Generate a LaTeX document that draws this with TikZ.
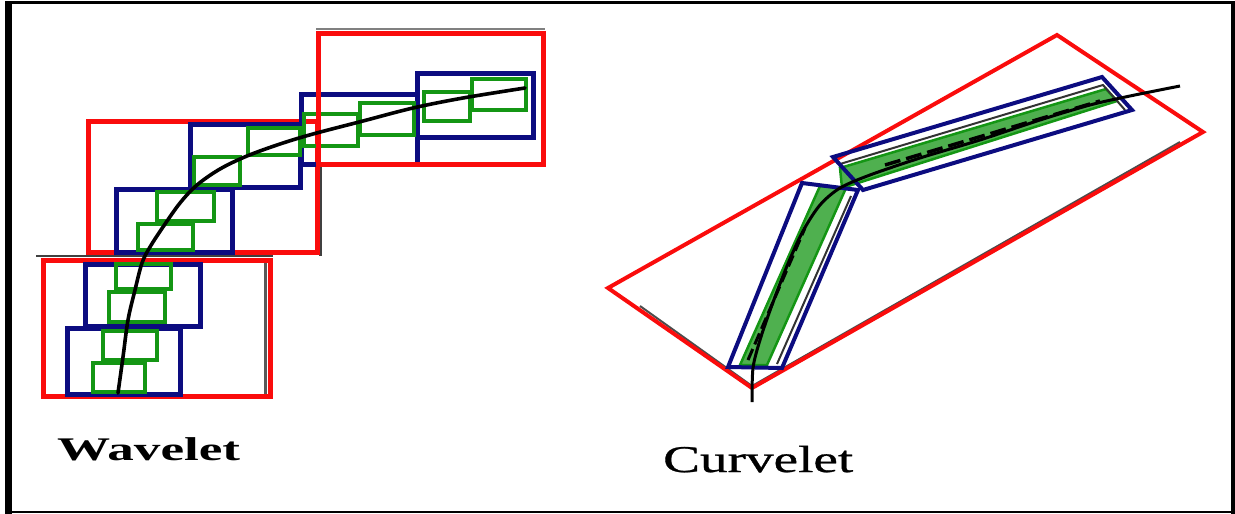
\documentclass[tikz,border=0pt]{standalone}
\usepackage{fontspec}
\setmainfont{Liberation Serif}
\newfontfamily\curvfont{Liberation Serif}[FakeBold=0.7]
\definecolor{wred}{RGB}{250,12,12}
\definecolor{wblue}{RGB}{12,12,128}
\definecolor{wgreen}{RGB}{20,150,20}
\tikzset{
  redbox/.style={draw=wred,line width=5pt},
  bluebox/.style={draw=wblue,line width=5pt},
  greenbox/.style={draw=wgreen,line width=4.5pt},
  shadowline/.style={draw=black!75,line width=2.4pt},
  redquad/.style={draw=wred,line width=4pt,line join=miter},
  bluequad/.style={draw=wblue,line width=4pt,line join=miter},
  greenstrip/.style={draw=wgreen,fill=wgreen!75!white,line width=2.5pt},
  curve/.style={draw=black,line width=3.6pt},
  lbl/.style={inner sep=0pt,anchor=base west}
}
\begin{document}
\begin{tikzpicture}[x=1pt,y=-1pt]
\useasboundingbox (0,0) rectangle (1235,514);
% frame
\fill[black] (5,1) rectangle (12,514);
\fill[black] (5,1) rectangle (1235,4);
\fill[black] (1231,1) rectangle (1235,514);
\fill[black] (5,510.8) rectangle (1235,513.3);

% ---------------- Wavelet ----------------
% shadow artefacts
\draw[shadowline,draw=gray] (316,29) -- (545,29);
\draw[shadowline] (36,256) -- (273,256);
\draw[shadowline,draw=black!65] (265.5,262) -- (265.5,394);
\draw[shadowline] (320.5,165) -- (320.5,256);
% large red boxes
\draw[redbox] (43,260) rectangle (270,396);
\draw[redbox] (88,121) rectangle (317,252);
% blue boxes
\draw[bluebox] (85,264) rectangle (200,326);
\draw[bluebox] (67,328) rectangle (180,394);
\draw[bluebox] (116,189) rectangle (232,252);
\draw[bluebox] (190,124) rectangle (300,187);
\draw[bluebox] (301,94) rectangle (417,164);
\draw[bluebox] (417,73) rectangle (533,137);
% green boxes
\draw[greenbox] (116,264) rectangle (171,289);
\draw[greenbox] (109,292) rectangle (165,322);
\draw[greenbox] (103,331) rectangle (157,360);
\draw[greenbox] (93,363) rectangle (145,392);
\draw[greenbox] (157,192) rectangle (214,221);
\draw[greenbox] (138,224) rectangle (193,250);
\draw[greenbox] (194,157) rectangle (240,185);
\draw[greenbox] (248,128) rectangle (300,155);
\draw[greenbox] (304,114) rectangle (358,146);
\draw[greenbox] (360,103) rectangle (414,135);
\draw[greenbox] (424,92) rectangle (470,121);
\draw[greenbox] (472,79) rectangle (526,110);
% top-right red box
\draw[redbox] (318,33) rectangle (543,164);
% curve
\draw[curve,line cap=round] plot[smooth,tension=0.55] coordinates {
  (118,393) (123,357) (128,320) (135,290) (142,263) (150,247) (163,227)
  (180,203) (197,185) (220,169) (247,156) (280,144) (313,134) (363,121)
  (413,108) (463,98) (525,88)};
\node[lbl] (wav) at (57,460) {\scalebox{1.61}[1]{\fontsize{33}{33}\selectfont\bfseries Wavelet}};

% ---------------- Curvelet ----------------
% red shadow
\draw[draw=black!70,line width=2pt] (640,306) -- (752,386) -- (1180,142);
\draw[redquad] (608,288) -- (1057,35) -- (1203,132) -- (752,388) -- cycle;
% green strips
\draw[greenstrip] (740,365) -- (767,365) -- (846,188) -- (820,186) -- cycle;
\draw[greenstrip] (840,168) -- (1106,89) -- (1117,101) -- (842,188) -- cycle;
% black inner shadow lines of blue boxes
\draw[draw=black!80,line width=2pt] (840,164) -- (1103,85) -- (1125,110);
\draw[draw=black!80,line width=2pt] (851,196) -- (777,364);
% blue boxes
\draw[bluequad] (833,157) -- (1102,77) -- (1132,110) -- (863,190) -- cycle;
\draw[bluequad] (802,183) -- (858,190) -- (782,368) -- (728,367) -- cycle;
% curve
\draw[curve,line width=3pt] plot[smooth,tension=0.5] coordinates {
  (752,402) (753,368) (760,340) (772,305) (787,266) (803,231) (820,205)
  (840,188) (870,175) (920,158) (980,140) (1040,120) (1090,105) (1130,96) (1180,86)};
\draw[draw=black,line width=3.5pt,dash pattern=on 16pt off 6pt] (885,165) -- (1100,101);
\draw[draw=black,line width=3pt,dash pattern=on 12pt off 5pt] (748,360) -- (805,228);
\node[lbl] (cur) at (663,472) {\scalebox{1.46}[1]{\fontsize{37.8}{37.8}\curvfont Curvelet}};
\end{tikzpicture}
\end{document}
